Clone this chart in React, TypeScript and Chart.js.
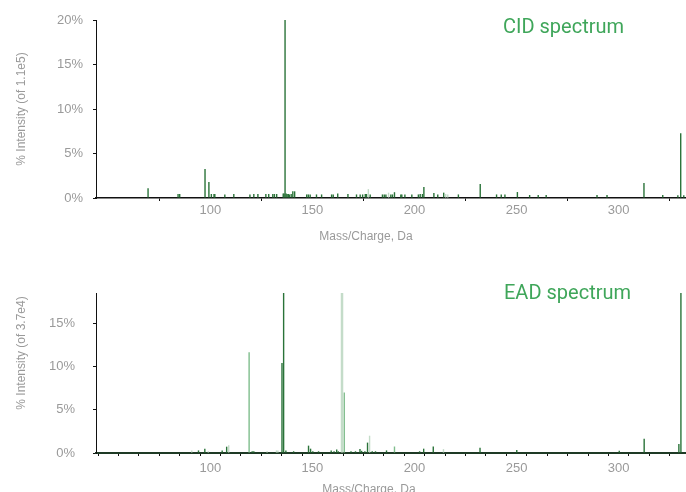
import React, { useEffect, useRef } from 'react';
import { Chart, registerables } from 'chart.js';

Chart.register(...registerables);

// ---------- data ----------
const xMin = 44;
const xMax = 332.5;
const xTickLabels = [100, 150, 200, 250, 300];
const eadMinorTicks = [50, 60, 70, 80, 90, 100, 110, 120, 130, 140, 150, 160, 170, 180, 190, 200, 210, 220, 230, 240, 250, 260, 270, 280, 290, 300, 310, 320, 330];
const cidYTicks = [0, 5, 10, 15, 20];
const eadYTicks = [0, 5, 10, 15];
const cidYMax = 20;
const eadYMax = 18.5;

const cidTitle = 'CID spectrum';
const eadTitle = 'EAD spectrum';
const cidYTitle = '% Intensity (of 1.1e5)';
const eadYTitle = '% Intensity (of 3.7e4)';
const xTitle = 'Mass/Charge, Da';

// CID spectrum (top) – dark green peaks
const cidDarkMz = [69.5, 84.2, 85.0, 97.4, 99.3, 100.5, 101.8, 102.2, 107.1, 111.5, 119.4, 121.3, 123.3, 127.2, 128.6, 130.6, 131.4, 132.5, 135.7, 136.1, 136.6, 137.1, 137.6, 138.2, 138.7, 139.6, 140.4, 141.3, 147.2, 148.0, 148.9, 152.0, 154.5, 159.4, 160.2, 162.4, 167.4, 171.6, 173.4, 174.6, 175.9, 176.5, 178.3, 184.3, 185.2, 186.0, 188.4, 189.2, 190.2, 193.3, 193.8, 195.3, 198.7, 201.9, 202.8, 203.9, 204.6, 209.5, 211.4, 214.3, 221.5, 232.2, 240.2, 242.5, 244.3, 250.4, 256.4, 260.6, 264.5, 289.4, 294.3, 312.4, 321.6, 329.0, 330.4, 331.9];
const cidDarkInt = [1.1, 0.45, 0.45, 3.26, 1.8, 0.45, 0.45, 0.45, 0.4, 0.45, 0.4, 0.45, 0.45, 0.45, 0.45, 0.45, 0.45, 0.45, 0.5, 0.5, 20, 0.5, 0.45, 0.45, 0.4, 0.45, 0.75, 0.75, 0.4, 0.4, 0.4, 0.4, 0.4, 0.4, 0.4, 0.5, 0.45, 0.4, 0.4, 0.4, 0.45, 0.45, 0.4, 0.4, 0.4, 0.4, 0.4, 0.4, 0.65, 0.4, 0.4, 0.4, 0.4, 0.4, 0.45, 0.45, 1.24, 0.55, 0.4, 0.6, 0.4, 1.57, 0.4, 0.4, 0.4, 0.67, 0.34, 0.34, 0.34, 0.34, 0.34, 1.69, 0.34, 0.3, 7.27, 0.3];
// CID spectrum – pale peaks
const cidPaleMz = [177.4, 187.3, 215.3, 216.3];
const cidPaleInt = [1.0, 0.6, 0.45, 0.4];

// EAD spectrum (bottom) – dark green peaks
const eadDarkMz = [94.2, 97.3, 105.8, 108.0, 120.5, 121.3, 135.1, 135.9, 137.0, 140.8, 148.1, 149.1, 150.2, 153.0, 159.2, 160.6, 161.9, 162.7, 168.9, 171.1, 173.3, 174.1, 175.7, 177.0, 179.3, 180.9, 186.3, 202.5, 204.5, 209.2, 232.1, 250.1, 300.3, 312.5, 329.5, 330.5];
const eadDarkInt = [0.3, 0.5, 0.3, 0.73, 0.2, 0.2, 10.4, 19, 0.3, 0.2, 0.85, 0.5, 0.2, 0.2, 0.3, 0.2, 0.4, 0.2, 0.2, 0.2, 0.45, 0.25, 0.2, 1.2, 0.2, 0.2, 0.3, 0.2, 0.5, 0.75, 0.6, 0.35, 0.25, 1.65, 1.05, 19];
// EAD – light green peaks
const eadLightMz = [119.0, 165.6, 190.2];
const eadLightInt = [11.65, 7.0, 0.75];
// EAD – pale peaks
const eadPaleMz = [90.9, 99.0, 109.0, 127.8, 132.4, 133.1, 178.0, 214.2];
const eadPaleInt = [0.3, 0.2, 0.9, 0.2, 0.3, 0.3, 2.0, 0.45];
// EAD – pale wide peak
const eadWideMz = [164.5];
const eadWideInt = [19];

// ---------- styles ----------
const DARK = '#2a7339';
const LIGHT = '#7fbd8c';
const PALE = '#c4dcc9';
const AXIS = '#111111';
const TICK_TEXT = '#9a9a9a';
const TITLE_GREEN = '#3fa65a';
const FONT = "'Liberation Sans', Arial, sans-serif";

function pts(mz: number[], inten: number[]) {
  return mz.map((x, i) => ({ x, y: inten[i] }));
}

function ds(mz: number[], inten: number[], color: string, thickness = 1.4) {
  return {
    data: pts(mz, inten),
    backgroundColor: color,
    borderWidth: 0,
    barThickness: thickness,
    inflateAmount: 0,
    grouped: false,
  };
}

interface Cfg {
  datasets: any[];
  yMax: number;
  yTicks: number[];
  xTickVals: number[];
  padTop: number;
  xAxisHeight: number;
  xTickPad: number;
  yTickPad: number;
  xBorderWidth: number;
  xBorderColor: string;
}

function makeChart(canvas: HTMLCanvasElement, c: Cfg) {
  return new Chart(canvas, {
    type: 'bar',
    data: { datasets: c.datasets },
    options: {
      responsive: false,
      animation: false,
      events: [],
      layout: { padding: { top: c.padTop, left: 0, right: 1, bottom: 0 } },
      plugins: { legend: { display: false }, tooltip: { enabled: false } },
      scales: {
        x: {
          type: 'linear',
          min: xMin,
          max: xMax,
          offset: false,
          afterBuildTicks: (s: any) => {
            s.ticks = c.xTickVals.map((v) => ({ value: v }));
          },
          afterFit: (s: any) => {
            s.height = c.xAxisHeight;
          },
          grid: { drawOnChartArea: false, drawTicks: true, tickLength: 3, color: AXIS },
          border: { display: true, color: c.xBorderColor, width: c.xBorderWidth },
          ticks: {
            autoSkip: false,
            maxRotation: 0,
            padding: c.xTickPad,
            color: TICK_TEXT,
            font: { size: 13, family: FONT },
            callback: (v: any) => (xTickLabels.includes(Number(v)) ? String(v) : ''),
          },
        },
        y: {
          type: 'linear',
          min: 0,
          max: c.yMax,
          afterBuildTicks: (s: any) => {
            s.ticks = c.yTicks.map((v) => ({ value: v }));
          },
          afterFit: (s: any) => {
            s.width = 96;
          },
          grid: { drawOnChartArea: false, drawTicks: true, tickLength: 3, color: AXIS },
          border: { display: true, color: AXIS, width: 1 },
          ticks: {
            padding: c.yTickPad,
            color: TICK_TEXT,
            font: { size: 13, family: FONT },
            callback: (v: any) => v + '%',
          },
        },
      },
    },
  });
}

const textBase: React.CSSProperties = {
  position: 'absolute',
  whiteSpace: 'nowrap',
  fontFamily: FONT,
  color: TICK_TEXT,
  fontSize: 12,
  lineHeight: '12px',
};

export default function App() {
  const topRef = useRef<HTMLCanvasElement>(null);
  const botRef = useRef<HTMLCanvasElement>(null);

  useEffect(() => {
    const top = makeChart(topRef.current!, {
      datasets: [ds(cidPaleMz, cidPaleInt, PALE), ds(cidDarkMz, cidDarkInt, DARK)],
      yMax: cidYMax,
      yTicks: cidYTicks,
      xTickVals: xTickLabels,
      padTop: 20,
      xAxisHeight: 48,
      xTickPad: 2,
      yTickPad: 10,
      xBorderWidth: 1.5,
      xBorderColor: AXIS,
    });
    const bot = makeChart(botRef.current!, {
      datasets: [
        ds(eadWideMz, eadWideInt, PALE, 2.5),
        ds(eadPaleMz, eadPaleInt, PALE),
        ds(eadLightMz, eadLightInt, LIGHT),
        ds(eadDarkMz, eadDarkInt, DARK),
      ],
      yMax: eadYMax,
      yTicks: eadYTicks,
      xTickVals: eadMinorTicks,
      padTop: 47,
      xAxisHeight: 39,
      xTickPad: 5,
      yTickPad: 18,
      xBorderWidth: 2,
      xBorderColor: '#1e3a25',
    });
    return () => {
      top.destroy();
      bot.destroy();
    };
  }, []);

  return (
    <div style={{ position: 'fixed', left: 0, top: 0, width: 686, height: 492, overflow: 'hidden', background: '#fff' }}>
      <canvas ref={topRef} width={686} height={246} style={{ position: 'absolute', left: 0, top: 0 }} />
      <canvas ref={botRef} width={686} height={246} style={{ position: 'absolute', left: 0, top: 246 }} />
      <div style={{ ...textBase, left: 366, top: 236, transform: 'translate(-50%, -50%)' }}>{xTitle}</div>
      <div style={{ ...textBase, left: 369, top: 489, transform: 'translate(-50%, -50%)' }}>{xTitle}</div>
      <div style={{ ...textBase, left: 21, top: 109, transform: 'translate(-50%, -50%) rotate(-90deg)' }}>{cidYTitle}</div>
      <div style={{ ...textBase, left: 21, top: 353, transform: 'translate(-50%, -50%) rotate(-90deg)' }}>{eadYTitle}</div>
      <div style={{ position: 'absolute', left: 503, top: 16, fontFamily: 'Roboto, sans-serif', fontSize: 20, lineHeight: '20px', color: TITLE_GREEN, whiteSpace: 'nowrap' }}>{cidTitle}</div>
      <div style={{ position: 'absolute', left: 504, top: 282, fontFamily: 'Roboto, sans-serif', fontSize: 20, lineHeight: '20px', color: TITLE_GREEN, whiteSpace: 'nowrap' }}>{eadTitle}</div>
    </div>
  );
}
